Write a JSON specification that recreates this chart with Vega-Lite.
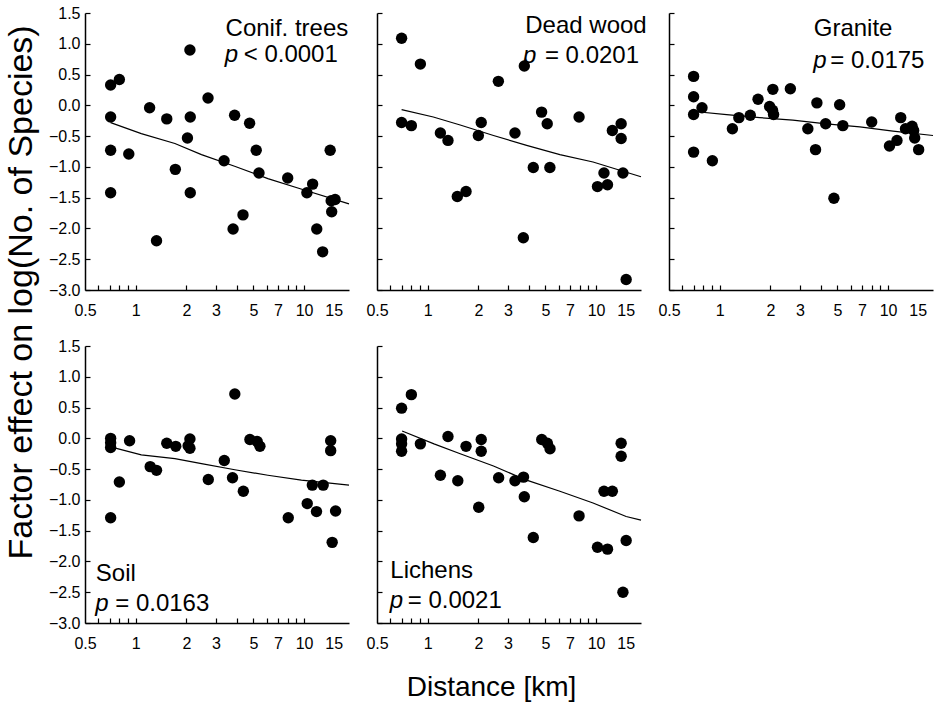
{
  "$schema": "https://vega.github.io/schema/vega-lite/v6.json",
  "background": "white",
  "padding": {"left": 3, "top": 5, "right": 5, "bottom": 5},
  "bounds": "flush",
  "columns": 3,
  "spacing": {"column": 28, "row": 56},
  "config": {
    "view": {"stroke": null},
    "font": "Liberation Sans",
    "axis": {
      "grid": false,
      "domainColor": "black",
      "domainWidth": 1.5,
      "tickColor": "black",
      "tickWidth": 1.2,
      "tickSize": -5,
      "labelFont": "Liberation Sans",
      "labelFontSize": 16,
      "labelColor": "black",
      "labelOverlap": false,
      "titleFont": "Liberation Sans",
      "titleColor": "black",
      "titleFontWeight": "normal"
    },
    "axisX": {
      "labelExpr": "(datum.value == 0.5 || datum.value == 1 || datum.value == 2 || datum.value == 3 || datum.value == 5 || datum.value == 7 || datum.value == 10 || datum.value == 15) ? '' + datum.value : ''",
      "tickOpacity": {"condition": {"test": "datum.value == 15 || datum.value == 0.5", "value": 0}, "value": 1},
      "labelFlush": false,
      "labelOverlap": false,
      "labelBound": false,
      "labelPadding": 17
    },
    "axisY": {
      "format": ".1f",
      "tickCount": 9,
      "labelOverlap": false,
      "labelFlush": false,
      "labelBound": false,
      "labelPadding": 10
    }
  },
  "datasets": {
    "points": [
      {"panel": "conif", "distance": 0.71, "effect": 0.33},
      {"panel": "conif", "distance": 0.80, "effect": 0.42},
      {"panel": "conif", "distance": 0.71, "effect": -0.19},
      {"panel": "conif", "distance": 0.71, "effect": -0.73},
      {"panel": "conif", "distance": 0.91, "effect": -0.79},
      {"panel": "conif", "distance": 0.71, "effect": -1.42},
      {"panel": "conif", "distance": 1.21, "effect": -0.04},
      {"panel": "conif", "distance": 1.53, "effect": -0.22},
      {"panel": "conif", "distance": 1.33, "effect": -2.20},
      {"panel": "conif", "distance": 1.72, "effect": -1.04},
      {"panel": "conif", "distance": 2.10, "effect": 0.90},
      {"panel": "conif", "distance": 2.03, "effect": -0.53},
      {"panel": "conif", "distance": 2.11, "effect": -0.19},
      {"panel": "conif", "distance": 2.11, "effect": -1.42},
      {"panel": "conif", "distance": 2.69, "effect": 0.12},
      {"panel": "conif", "distance": 3.35, "effect": -0.90},
      {"panel": "conif", "distance": 3.87, "effect": -0.16},
      {"panel": "conif", "distance": 3.79, "effect": -2.01},
      {"panel": "conif", "distance": 4.34, "effect": -1.78},
      {"panel": "conif", "distance": 4.75, "effect": -0.29},
      {"panel": "conif", "distance": 5.20, "effect": -0.73},
      {"panel": "conif", "distance": 5.40, "effect": -1.10},
      {"panel": "conif", "distance": 8.0, "effect": -1.18},
      {"panel": "conif", "distance": 10.4, "effect": -1.42},
      {"panel": "conif", "distance": 11.25, "effect": -1.28},
      {"panel": "conif", "distance": 11.9, "effect": -2.01},
      {"panel": "conif", "distance": 12.9, "effect": -2.38},
      {"panel": "conif", "distance": 14.3, "effect": -0.73},
      {"panel": "conif", "distance": 14.5, "effect": -1.55},
      {"panel": "conif", "distance": 15.3, "effect": -1.53},
      {"panel": "conif", "distance": 14.6, "effect": -1.73},

      {"panel": "dead", "distance": 0.70, "effect": 1.09},
      {"panel": "dead", "distance": 0.905, "effect": 0.67},
      {"panel": "dead", "distance": 0.70, "effect": -0.28},
      {"panel": "dead", "distance": 0.80, "effect": -0.33},
      {"panel": "dead", "distance": 1.19, "effect": -0.45},
      {"panel": "dead", "distance": 1.32, "effect": -0.57},
      {"panel": "dead", "distance": 1.50, "effect": -1.48},
      {"panel": "dead", "distance": 1.69, "effect": -1.40},
      {"panel": "dead", "distance": 2.00, "effect": -0.49},
      {"panel": "dead", "distance": 2.08, "effect": -0.28},
      {"panel": "dead", "distance": 2.63, "effect": 0.39},
      {"panel": "dead", "distance": 3.30, "effect": -0.45},
      {"panel": "dead", "distance": 3.70, "effect": -2.15},
      {"panel": "dead", "distance": 3.75, "effect": 0.64},
      {"panel": "dead", "distance": 4.24, "effect": -1.01},
      {"panel": "dead", "distance": 4.75, "effect": -0.11},
      {"panel": "dead", "distance": 5.13, "effect": -0.30},
      {"panel": "dead", "distance": 5.32, "effect": -1.01},
      {"panel": "dead", "distance": 7.93, "effect": -0.19},
      {"panel": "dead", "distance": 10.2, "effect": -1.32},
      {"panel": "dead", "distance": 11.15, "effect": -1.10},
      {"panel": "dead", "distance": 11.7, "effect": -1.29},
      {"panel": "dead", "distance": 12.5, "effect": -0.41},
      {"panel": "dead", "distance": 14.1, "effect": -0.30},
      {"panel": "dead", "distance": 14.1, "effect": -0.54},
      {"panel": "dead", "distance": 14.45, "effect": -1.10},
      {"panel": "dead", "distance": 15.1, "effect": -2.83},

      {"panel": "granite", "distance": 0.70, "effect": 0.47},
      {"panel": "granite", "distance": 0.70, "effect": 0.14},
      {"panel": "granite", "distance": 0.70, "effect": -0.15},
      {"panel": "granite", "distance": 0.785, "effect": -0.04},
      {"panel": "granite", "distance": 0.70, "effect": -0.76},
      {"panel": "granite", "distance": 0.905, "effect": -0.90},
      {"panel": "granite", "distance": 1.19, "effect": -0.38},
      {"panel": "granite", "distance": 1.30, "effect": -0.20},
      {"panel": "granite", "distance": 1.52, "effect": -0.16},
      {"panel": "granite", "distance": 1.69, "effect": 0.10},
      {"panel": "granite", "distance": 1.98, "effect": -0.02},
      {"panel": "granite", "distance": 2.07, "effect": 0.26},
      {"panel": "granite", "distance": 2.06, "effect": -0.08},
      {"panel": "granite", "distance": 2.09, "effect": -0.15},
      {"panel": "granite", "distance": 2.63, "effect": 0.27},
      {"panel": "granite", "distance": 3.34, "effect": -0.38},
      {"panel": "granite", "distance": 3.71, "effect": -0.72},
      {"panel": "granite", "distance": 3.78, "effect": 0.04},
      {"panel": "granite", "distance": 4.26, "effect": -0.30},
      {"panel": "granite", "distance": 4.77, "effect": -1.51},
      {"panel": "granite", "distance": 5.16, "effect": 0.01},
      {"panel": "granite", "distance": 5.39, "effect": -0.33},
      {"panel": "granite", "distance": 8.0, "effect": -0.27},
      {"panel": "granite", "distance": 10.2, "effect": -0.66},
      {"panel": "granite", "distance": 11.3, "effect": -0.57},
      {"panel": "granite", "distance": 11.9, "effect": -0.20},
      {"panel": "granite", "distance": 12.7, "effect": -0.38},
      {"panel": "granite", "distance": 13.9, "effect": -0.34},
      {"panel": "granite", "distance": 14.2, "effect": -0.41},
      {"panel": "granite", "distance": 14.4, "effect": -0.53},
      {"panel": "granite", "distance": 15.2, "effect": -0.72},

      {"panel": "soil", "distance": 0.71, "effect": 0.00},
      {"panel": "soil", "distance": 0.71, "effect": -0.07},
      {"panel": "soil", "distance": 0.71, "effect": -0.15},
      {"panel": "soil", "distance": 0.71, "effect": -1.29},
      {"panel": "soil", "distance": 0.80, "effect": -0.71},
      {"panel": "soil", "distance": 0.92, "effect": -0.04},
      {"panel": "soil", "distance": 1.22, "effect": -0.46},
      {"panel": "soil", "distance": 1.33, "effect": -0.52},
      {"panel": "soil", "distance": 1.53, "effect": -0.08},
      {"panel": "soil", "distance": 1.73, "effect": -0.13},
      {"panel": "soil", "distance": 2.10, "effect": -0.01},
      {"panel": "soil", "distance": 2.10, "effect": -0.16},
      {"panel": "soil", "distance": 2.05, "effect": -0.12},
      {"panel": "soil", "distance": 2.70, "effect": -0.67},
      {"panel": "soil", "distance": 3.36, "effect": -0.36},
      {"panel": "soil", "distance": 3.88, "effect": 0.72},
      {"panel": "soil", "distance": 3.76, "effect": -0.64},
      {"panel": "soil", "distance": 4.36, "effect": -0.86},
      {"panel": "soil", "distance": 4.77, "effect": -0.02},
      {"panel": "soil", "distance": 5.27, "effect": -0.05},
      {"panel": "soil", "distance": 5.47, "effect": -0.13},
      {"panel": "soil", "distance": 8.06, "effect": -1.29},
      {"panel": "soil", "distance": 10.45, "effect": -1.06},
      {"panel": "soil", "distance": 11.2, "effect": -0.76},
      {"panel": "soil", "distance": 11.86, "effect": -1.19},
      {"panel": "soil", "distance": 13.0, "effect": -0.76},
      {"panel": "soil", "distance": 14.4, "effect": -0.04},
      {"panel": "soil", "distance": 14.4, "effect": -0.20},
      {"panel": "soil", "distance": 14.7, "effect": -1.69},
      {"panel": "soil", "distance": 15.4, "effect": -1.18},

      {"panel": "lichens", "distance": 0.70, "effect": 0.49},
      {"panel": "lichens", "distance": 0.80, "effect": 0.71},
      {"panel": "lichens", "distance": 0.70, "effect": -0.01},
      {"panel": "lichens", "distance": 0.70, "effect": -0.09},
      {"panel": "lichens", "distance": 0.70, "effect": -0.21},
      {"panel": "lichens", "distance": 0.905, "effect": -0.09},
      {"panel": "lichens", "distance": 1.19, "effect": -0.60},
      {"panel": "lichens", "distance": 1.32, "effect": 0.03},
      {"panel": "lichens", "distance": 1.51, "effect": -0.69},
      {"panel": "lichens", "distance": 1.69, "effect": -0.13},
      {"panel": "lichens", "distance": 2.01, "effect": -1.12},
      {"panel": "lichens", "distance": 2.08, "effect": -0.02},
      {"panel": "lichens", "distance": 2.08, "effect": -0.21},
      {"panel": "lichens", "distance": 2.64, "effect": -0.64},
      {"panel": "lichens", "distance": 3.30, "effect": -0.69},
      {"panel": "lichens", "distance": 3.71, "effect": -0.63},
      {"panel": "lichens", "distance": 3.75, "effect": -0.95},
      {"panel": "lichens", "distance": 4.24, "effect": -1.61},
      {"panel": "lichens", "distance": 4.76, "effect": -0.02},
      {"panel": "lichens", "distance": 5.14, "effect": -0.08},
      {"panel": "lichens", "distance": 5.33, "effect": -0.17},
      {"panel": "lichens", "distance": 7.93, "effect": -1.26},
      {"panel": "lichens", "distance": 10.2, "effect": -1.77},
      {"panel": "lichens", "distance": 11.15, "effect": -0.86},
      {"panel": "lichens", "distance": 11.7, "effect": -1.80},
      {"panel": "lichens", "distance": 12.5, "effect": -0.86},
      {"panel": "lichens", "distance": 14.1, "effect": -0.08},
      {"panel": "lichens", "distance": 14.1, "effect": -0.29},
      {"panel": "lichens", "distance": 14.45, "effect": -2.50},
      {"panel": "lichens", "distance": 15.1, "effect": -1.66}
    ],
    "fits": [
      {"panel": "conif", "distance": 0.71, "fit": -0.28},
      {"panel": "conif", "distance": 1.08, "fit": -0.46},
      {"panel": "conif", "distance": 1.71, "fit": -0.62},
      {"panel": "conif", "distance": 2.46, "fit": -0.80},
      {"panel": "conif", "distance": 3.87, "fit": -0.99},
      {"panel": "conif", "distance": 6.1, "fit": -1.19},
      {"panel": "conif", "distance": 9.6, "fit": -1.36},
      {"panel": "conif", "distance": 18.5, "fit": -1.60},
      {"panel": "dead", "distance": 0.70, "fit": -0.07},
      {"panel": "dead", "distance": 1.08, "fit": -0.19},
      {"panel": "dead", "distance": 1.56, "fit": -0.32},
      {"panel": "dead", "distance": 2.46, "fit": -0.49},
      {"panel": "dead", "distance": 3.87, "fit": -0.65},
      {"panel": "dead", "distance": 6.1, "fit": -0.80},
      {"panel": "dead", "distance": 9.6, "fit": -0.92},
      {"panel": "dead", "distance": 18.5, "fit": -1.16},
      {"panel": "granite", "distance": 0.71, "fit": -0.10},
      {"panel": "granite", "distance": 1.10, "fit": -0.15},
      {"panel": "granite", "distance": 1.73, "fit": -0.20},
      {"panel": "granite", "distance": 2.72, "fit": -0.24},
      {"panel": "granite", "distance": 4.3, "fit": -0.30},
      {"panel": "granite", "distance": 6.8, "fit": -0.35},
      {"panel": "granite", "distance": 10.7, "fit": -0.42},
      {"panel": "granite", "distance": 18.5, "fit": -0.49},
      {"panel": "soil", "distance": 0.71, "fit": -0.14},
      {"panel": "soil", "distance": 1.08, "fit": -0.27},
      {"panel": "soil", "distance": 1.71, "fit": -0.33},
      {"panel": "soil", "distance": 2.46, "fit": -0.41},
      {"panel": "soil", "distance": 3.88, "fit": -0.51},
      {"panel": "soil", "distance": 6.1, "fit": -0.60},
      {"panel": "soil", "distance": 9.65, "fit": -0.68},
      {"panel": "soil", "distance": 18.5, "fit": -0.76},
      {"panel": "lichens", "distance": 0.705, "fit": 0.12},
      {"panel": "lichens", "distance": 1.09, "fit": -0.09},
      {"panel": "lichens", "distance": 1.56, "fit": -0.25},
      {"panel": "lichens", "distance": 2.46, "fit": -0.45},
      {"panel": "lichens", "distance": 3.87, "fit": -0.68},
      {"panel": "lichens", "distance": 6.1, "fit": -0.86},
      {"panel": "lichens", "distance": 9.6, "fit": -1.05},
      {"panel": "lichens", "distance": 15.1, "fit": -1.27},
      {"panel": "lichens", "distance": 18.5, "fit": -1.33}
    ],
    "labels": [
      {"panel": "conif", "name": "Conif. trees", "rel": "< 0.0001"},
      {"panel": "dead", "name": "Dead wood", "rel": "= 0.0201"},
      {"panel": "granite", "name": "Granite", "rel": "= 0.0175"},
      {"panel": "soil", "name": "Soil", "rel": "= 0.0163"},
      {"panel": "lichens", "name": "Lichens", "rel": "= 0.0021"}
    ]
  },
  "concat": [
    {
      "width": 264, "height": 277,
      "layer": [
        {"data": {"name": "points"}, "transform": [{"filter": "datum.panel == 'conif'"}],
         "mark": {"type": "circle", "size": 130, "color": "black", "opacity": 1},
         "encoding": {
           "x": {"field": "distance", "type": "quantitative", "scale": {"type": "log", "domain": [0.5, 18.5], "nice": false},
                 "axis": {"title": null, "labelOverlap": false, "values": [0.5, 0.6, 0.7, 0.8, 0.9, 1, 2, 3, 4, 5, 6, 7, 8, 9, 10, 15]}},
           "y": {"field": "effect", "type": "quantitative", "scale": {"domain": [-3, 1.5], "nice": false},
                 "axis": {"title": null}}
         }},
        {"data": {"name": "fits"}, "transform": [{"filter": "datum.panel == 'conif'"}],
         "mark": {"type": "line", "color": "black", "strokeWidth": 1.2},
         "encoding": {"x": {"field": "distance", "type": "quantitative"}, "y": {"field": "fit", "type": "quantitative"}}},
        {"data": {"name": "labels"}, "transform": [{"filter": "datum.panel == 'conif'"}],
         "mark": {"type": "text", "align": "left", "baseline": "alphabetic", "fontSize": 24, "font": "Liberation Sans", "color": "black"},
         "encoding": {"x": {"datum": 3.42}, "y": {"datum": 1.12}, "text": {"field": "name"}}},
        {"data": {"name": "labels"}, "transform": [{"filter": "datum.panel == 'conif'"}],
         "mark": {"type": "text", "align": "left", "baseline": "alphabetic", "fontSize": 24, "font": "Liberation Sans", "fontStyle": "italic", "color": "black"},
         "encoding": {"x": {"datum": 3.38}, "y": {"datum": 0.71}, "text": {"value": "p"}}},
        {"data": {"name": "labels"}, "transform": [{"filter": "datum.panel == 'conif'"}],
         "mark": {"type": "text", "align": "left", "baseline": "alphabetic", "fontSize": 24, "font": "Liberation Sans", "color": "black", "dx": 19},
         "encoding": {"x": {"datum": 3.38}, "y": {"datum": 0.71}, "text": {"field": "rel"}}}
      ]
    },
    {
      "width": 264, "height": 277,
      "layer": [
        {"data": {"name": "points"}, "transform": [{"filter": "datum.panel == 'dead'"}],
         "mark": {"type": "circle", "size": 130, "color": "black", "opacity": 1},
         "encoding": {
           "x": {"field": "distance", "type": "quantitative", "scale": {"type": "log", "domain": [0.5, 18.5], "nice": false},
                 "axis": {"title": null, "labelOverlap": false, "values": [0.5, 0.6, 0.7, 0.8, 0.9, 1, 2, 3, 4, 5, 6, 7, 8, 9, 10, 15]}},
           "y": {"field": "effect", "type": "quantitative", "scale": {"domain": [-3, 1.5], "nice": false},
                 "axis": {"title": null, "labels": false}}
         }},
        {"data": {"name": "fits"}, "transform": [{"filter": "datum.panel == 'dead'"}],
         "mark": {"type": "line", "color": "black", "strokeWidth": 1.2},
         "encoding": {"x": {"field": "distance", "type": "quantitative"}, "y": {"field": "fit", "type": "quantitative"}}},
        {"data": {"name": "labels"}, "transform": [{"filter": "datum.panel == 'dead'"}],
         "mark": {"type": "text", "align": "left", "baseline": "alphabetic", "fontSize": 24, "font": "Liberation Sans", "color": "black"},
         "encoding": {"x": {"datum": 3.8}, "y": {"datum": 1.17}, "text": {"field": "name"}}},
        {"data": {"name": "labels"}, "transform": [{"filter": "datum.panel == 'dead'"}],
         "mark": {"type": "text", "align": "left", "baseline": "alphabetic", "fontSize": 24, "font": "Liberation Sans", "fontStyle": "italic", "color": "black"},
         "encoding": {"x": {"datum": 3.68}, "y": {"datum": 0.69}, "text": {"value": "p"}}},
        {"data": {"name": "labels"}, "transform": [{"filter": "datum.panel == 'dead'"}],
         "mark": {"type": "text", "align": "left", "baseline": "alphabetic", "fontSize": 24, "font": "Liberation Sans", "color": "black", "dx": 22},
         "encoding": {"x": {"datum": 3.68}, "y": {"datum": 0.69}, "text": {"field": "rel"}}}
      ]
    },
    {
      "width": 264, "height": 277,
      "layer": [
        {"data": {"name": "points"}, "transform": [{"filter": "datum.panel == 'granite'"}],
         "mark": {"type": "circle", "size": 130, "color": "black", "opacity": 1},
         "encoding": {
           "x": {"field": "distance", "type": "quantitative", "scale": {"type": "log", "domain": [0.5, 18.5], "nice": false},
                 "axis": {"title": null, "labelOverlap": false, "values": [0.5, 0.6, 0.7, 0.8, 0.9, 1, 2, 3, 4, 5, 6, 7, 8, 9, 10, 15]}},
           "y": {"field": "effect", "type": "quantitative", "scale": {"domain": [-3, 1.5], "nice": false},
                 "axis": {"title": null, "labels": false}}
         }},
        {"data": {"name": "fits"}, "transform": [{"filter": "datum.panel == 'granite'"}],
         "mark": {"type": "line", "color": "black", "strokeWidth": 1.2},
         "encoding": {"x": {"field": "distance", "type": "quantitative"}, "y": {"field": "fit", "type": "quantitative"}}},
        {"data": {"name": "labels"}, "transform": [{"filter": "datum.panel == 'granite'"}],
         "mark": {"type": "text", "align": "left", "baseline": "alphabetic", "fontSize": 24, "font": "Liberation Sans", "color": "black"},
         "encoding": {"x": {"datum": 3.62}, "y": {"datum": 1.12}, "text": {"field": "name"}}},
        {"data": {"name": "labels"}, "transform": [{"filter": "datum.panel == 'granite'"}],
         "mark": {"type": "text", "align": "left", "baseline": "alphabetic", "fontSize": 24, "font": "Liberation Sans", "fontStyle": "italic", "color": "black"},
         "encoding": {"x": {"datum": 3.6}, "y": {"datum": 0.60}, "text": {"value": "p"}}},
        {"data": {"name": "labels"}, "transform": [{"filter": "datum.panel == 'granite'"}],
         "mark": {"type": "text", "align": "left", "baseline": "alphabetic", "fontSize": 24, "font": "Liberation Sans", "color": "black", "dx": 17},
         "encoding": {"x": {"datum": 3.6}, "y": {"datum": 0.60}, "text": {"field": "rel"}}}
      ]
    },
    {
      "width": 264, "height": 277,
      "layer": [
        {"data": {"name": "points"}, "transform": [{"filter": "datum.panel == 'soil'"}],
         "mark": {"type": "circle", "size": 130, "color": "black", "opacity": 1},
         "encoding": {
           "x": {"field": "distance", "type": "quantitative", "scale": {"type": "log", "domain": [0.5, 18.5], "nice": false},
                 "axis": {"title": null, "labelOverlap": false, "values": [0.5, 0.6, 0.7, 0.8, 0.9, 1, 2, 3, 4, 5, 6, 7, 8, 9, 10, 15]}},
           "y": {"field": "effect", "type": "quantitative", "scale": {"domain": [-3, 1.5], "nice": false},
                 "axis": {"title": "Factor effect on log(No. of Species)", "titleFontSize": 34, "titleAngle": 270, "titleAlign": "left", "titleBaseline": "alphabetic", "titleX": -54, "titleY": 213}}
         }},
        {"data": {"name": "fits"}, "transform": [{"filter": "datum.panel == 'soil'"}],
         "mark": {"type": "line", "color": "black", "strokeWidth": 1.2},
         "encoding": {"x": {"field": "distance", "type": "quantitative"}, "y": {"field": "fit", "type": "quantitative"}}},
        {"data": {"name": "labels"}, "transform": [{"filter": "datum.panel == 'soil'"}],
         "mark": {"type": "text", "align": "left", "baseline": "alphabetic", "fontSize": 24, "font": "Liberation Sans", "color": "black"},
         "encoding": {"x": {"datum": 0.58}, "y": {"datum": -2.32}, "text": {"field": "name"}}},
        {"data": {"name": "labels"}, "transform": [{"filter": "datum.panel == 'soil'"}],
         "mark": {"type": "text", "align": "left", "baseline": "alphabetic", "fontSize": 24, "font": "Liberation Sans", "fontStyle": "italic", "color": "black"},
         "encoding": {"x": {"datum": 0.575}, "y": {"datum": -2.81}, "text": {"value": "p"}}},
        {"data": {"name": "labels"}, "transform": [{"filter": "datum.panel == 'soil'"}],
         "mark": {"type": "text", "align": "left", "baseline": "alphabetic", "fontSize": 24, "font": "Liberation Sans", "color": "black", "dx": 20},
         "encoding": {"x": {"datum": 0.575}, "y": {"datum": -2.81}, "text": {"field": "rel"}}}
      ]
    },
    {
      "width": 264, "height": 277,
      "layer": [
        {"data": {"name": "points"}, "transform": [{"filter": "datum.panel == 'lichens'"}],
         "mark": {"type": "circle", "size": 130, "color": "black", "opacity": 1},
         "encoding": {
           "x": {"field": "distance", "type": "quantitative", "scale": {"type": "log", "domain": [0.5, 18.5], "nice": false},
                 "axis": {"labelOverlap": false, "values": [0.5, 0.6, 0.7, 0.8, 0.9, 1, 2, 3, 4, 5, 6, 7, 8, 9, 10, 15],
                          "title": "Distance [km]", "titleFontSize": 28, "titleX": 114, "titleY": 72, "titleBaseline": "alphabetic", "titleAlign": "center"}},
           "y": {"field": "effect", "type": "quantitative", "scale": {"domain": [-3, 1.5], "nice": false},
                 "axis": {"title": null, "labels": false}}
         }},
        {"data": {"name": "fits"}, "transform": [{"filter": "datum.panel == 'lichens'"}],
         "mark": {"type": "line", "color": "black", "strokeWidth": 1.2},
         "encoding": {"x": {"field": "distance", "type": "quantitative"}, "y": {"field": "fit", "type": "quantitative"}}},
        {"data": {"name": "labels"}, "transform": [{"filter": "datum.panel == 'lichens'"}],
         "mark": {"type": "text", "align": "left", "baseline": "alphabetic", "fontSize": 24, "font": "Liberation Sans", "color": "black"},
         "encoding": {"x": {"datum": 0.6}, "y": {"datum": -2.27}, "text": {"field": "name"}}},
        {"data": {"name": "labels"}, "transform": [{"filter": "datum.panel == 'lichens'"}],
         "mark": {"type": "text", "align": "left", "baseline": "alphabetic", "fontSize": 24, "font": "Liberation Sans", "fontStyle": "italic", "color": "black"},
         "encoding": {"x": {"datum": 0.595}, "y": {"datum": -2.76}, "text": {"value": "p"}}},
        {"data": {"name": "labels"}, "transform": [{"filter": "datum.panel == 'lichens'"}],
         "mark": {"type": "text", "align": "left", "baseline": "alphabetic", "fontSize": 24, "font": "Liberation Sans", "color": "black", "dx": 18},
         "encoding": {"x": {"datum": 0.595}, "y": {"datum": -2.76}, "text": {"field": "rel"}}}
      ]
    }
  ]
}
